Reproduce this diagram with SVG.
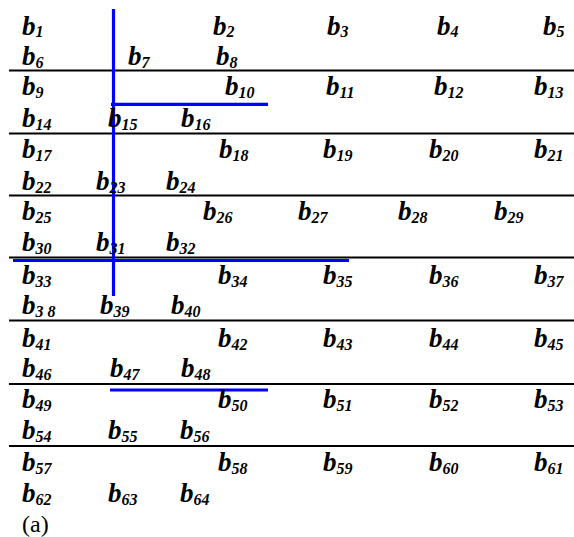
<svg xmlns="http://www.w3.org/2000/svg" width="574" height="537" viewBox="0 0 574 537">
<style>
.t{font-family:"Liberation Serif","Times New Roman",serif;font-weight:bold;font-style:italic;font-size:27px;fill:#000}
.s{font-size:16px}
.sep{stroke:#000;stroke-width:2.2;fill:none}
.bl{stroke:#0000ff;stroke-width:3.2;fill:none}
.cap{font-family:"Liberation Serif","Times New Roman",serif;font-size:24px;fill:#000}
</style>
<rect width="574" height="537" fill="#fff"/>
<g id="separators">
<line class="sep" x1="9" y1="70.5" x2="574" y2="70.5"/>
<line class="sep" x1="9" y1="133.5" x2="574" y2="133.5"/>
<line class="sep" x1="9" y1="195.5" x2="574" y2="195.5"/>
<line class="sep" x1="9" y1="257.5" x2="574" y2="257.5"/>
<line class="sep" x1="9" y1="320.5" x2="574" y2="320.5"/>
<line class="sep" x1="9" y1="384" x2="574" y2="384"/>
<line class="sep" x1="9" y1="446" x2="574" y2="446"/>
</g>
<g id="blue-lines">
<line class="bl" x1="113.5" y1="9" x2="113.5" y2="296"/>
<line class="bl" x1="111" y1="104.3" x2="268" y2="104.3"/>
<line class="bl" x1="13" y1="260.5" x2="349" y2="260.5"/>
<line class="bl" x1="110" y1="390" x2="268" y2="390"/>
</g>
<g id="labels" class="t">
<text x="22" y="34.5">b<tspan class="s" dy="2">1</tspan></text>
<text x="213" y="34.5">b<tspan class="s" dy="2">2</tspan></text>
<text x="327" y="34.5">b<tspan class="s" dy="2">3</tspan></text>
<text x="437" y="34.5">b<tspan class="s" dy="2">4</tspan></text>
<text x="543" y="34.5">b<tspan class="s" dy="2">5</tspan></text>
<text x="22" y="65">b<tspan class="s" dy="3">6</tspan></text>
<text x="128" y="65">b<tspan class="s" dy="3">7</tspan></text>
<text x="216" y="65">b<tspan class="s" dy="3">8</tspan></text>

<text x="22" y="95">b<tspan class="s" dy="3">9</tspan></text>
<text x="225" y="95">b<tspan class="s" dy="3">10</tspan></text>
<text x="326" y="95">b<tspan class="s" dy="3">11</tspan></text>
<text x="434" y="95">b<tspan class="s" dy="3">12</tspan></text>
<text x="534" y="95">b<tspan class="s" dy="3">13</tspan></text>
<text x="22" y="127">b<tspan class="s" dy="3">14</tspan></text>
<text x="108" y="127">b<tspan class="s" dy="3">15</tspan></text>
<text x="181" y="127">b<tspan class="s" dy="3">16</tspan></text>

<text x="22" y="158">b<tspan class="s" dy="3">17</tspan></text>
<text x="219" y="158">b<tspan class="s" dy="3">18</tspan></text>
<text x="323" y="158">b<tspan class="s" dy="3">19</tspan></text>
<text x="429" y="158">b<tspan class="s" dy="3">20</tspan></text>
<text x="534" y="158">b<tspan class="s" dy="3">21</tspan></text>
<text x="22" y="190">b<tspan class="s" dy="3">22</tspan></text>
<text x="96" y="190">b<tspan class="s" dy="3">23</tspan></text>
<text x="166" y="190">b<tspan class="s" dy="3">24</tspan></text>

<text x="22" y="220">b<tspan class="s" dy="3">25</tspan></text>
<text x="203" y="220">b<tspan class="s" dy="3">26</tspan></text>
<text x="298" y="220">b<tspan class="s" dy="3">27</tspan></text>
<text x="398" y="220">b<tspan class="s" dy="3">28</tspan></text>
<text x="494" y="220">b<tspan class="s" dy="3">29</tspan></text>
<text x="22" y="251">b<tspan class="s" dy="3">30</tspan></text>
<text x="96" y="251">b<tspan class="s" dy="3">31</tspan></text>
<text x="166" y="251">b<tspan class="s" dy="3">32</tspan></text>

<text x="22" y="284">b<tspan class="s" dy="3">33</tspan></text>
<text x="218" y="284">b<tspan class="s" dy="3">34</tspan></text>
<text x="323" y="284">b<tspan class="s" dy="3">35</tspan></text>
<text x="429" y="284">b<tspan class="s" dy="3">36</tspan></text>
<text x="534" y="284">b<tspan class="s" dy="3">37</tspan></text>
<text x="22" y="314">b<tspan class="s" dy="3">3 8</tspan></text>
<text x="100" y="314">b<tspan class="s" dy="3">39</tspan></text>
<text x="171" y="314">b<tspan class="s" dy="3">40</tspan></text>

<text x="22" y="347">b<tspan class="s" dy="3">41</tspan></text>
<text x="218" y="347">b<tspan class="s" dy="3">42</tspan></text>
<text x="323" y="347">b<tspan class="s" dy="3">43</tspan></text>
<text x="429" y="347">b<tspan class="s" dy="3">44</tspan></text>
<text x="534" y="347">b<tspan class="s" dy="3">45</tspan></text>
<text x="22" y="377">b<tspan class="s" dy="3">46</tspan></text>
<text x="110" y="377">b<tspan class="s" dy="3">47</tspan></text>
<text x="181" y="377">b<tspan class="s" dy="3">48</tspan></text>

<text x="22" y="408">b<tspan class="s" dy="3">49</tspan></text>
<text x="218" y="408">b<tspan class="s" dy="3">50</tspan></text>
<text x="323" y="408">b<tspan class="s" dy="3">51</tspan></text>
<text x="429" y="408">b<tspan class="s" dy="3">52</tspan></text>
<text x="534" y="408">b<tspan class="s" dy="3">53</tspan></text>
<text x="22" y="439">b<tspan class="s" dy="3">54</tspan></text>
<text x="108" y="439">b<tspan class="s" dy="3">55</tspan></text>
<text x="180" y="439">b<tspan class="s" dy="3">56</tspan></text>

<text x="22" y="471">b<tspan class="s" dy="3">57</tspan></text>
<text x="218" y="471">b<tspan class="s" dy="3">58</tspan></text>
<text x="323" y="471">b<tspan class="s" dy="3">59</tspan></text>
<text x="429" y="471">b<tspan class="s" dy="3">60</tspan></text>
<text x="534" y="471">b<tspan class="s" dy="3">61</tspan></text>
<text x="22" y="502">b<tspan class="s" dy="3">62</tspan></text>
<text x="108" y="502">b<tspan class="s" dy="3">63</tspan></text>
<text x="180" y="502">b<tspan class="s" dy="3">64</tspan></text>
</g>
<text class="cap" x="22" y="532">(a)</text>
</svg>
